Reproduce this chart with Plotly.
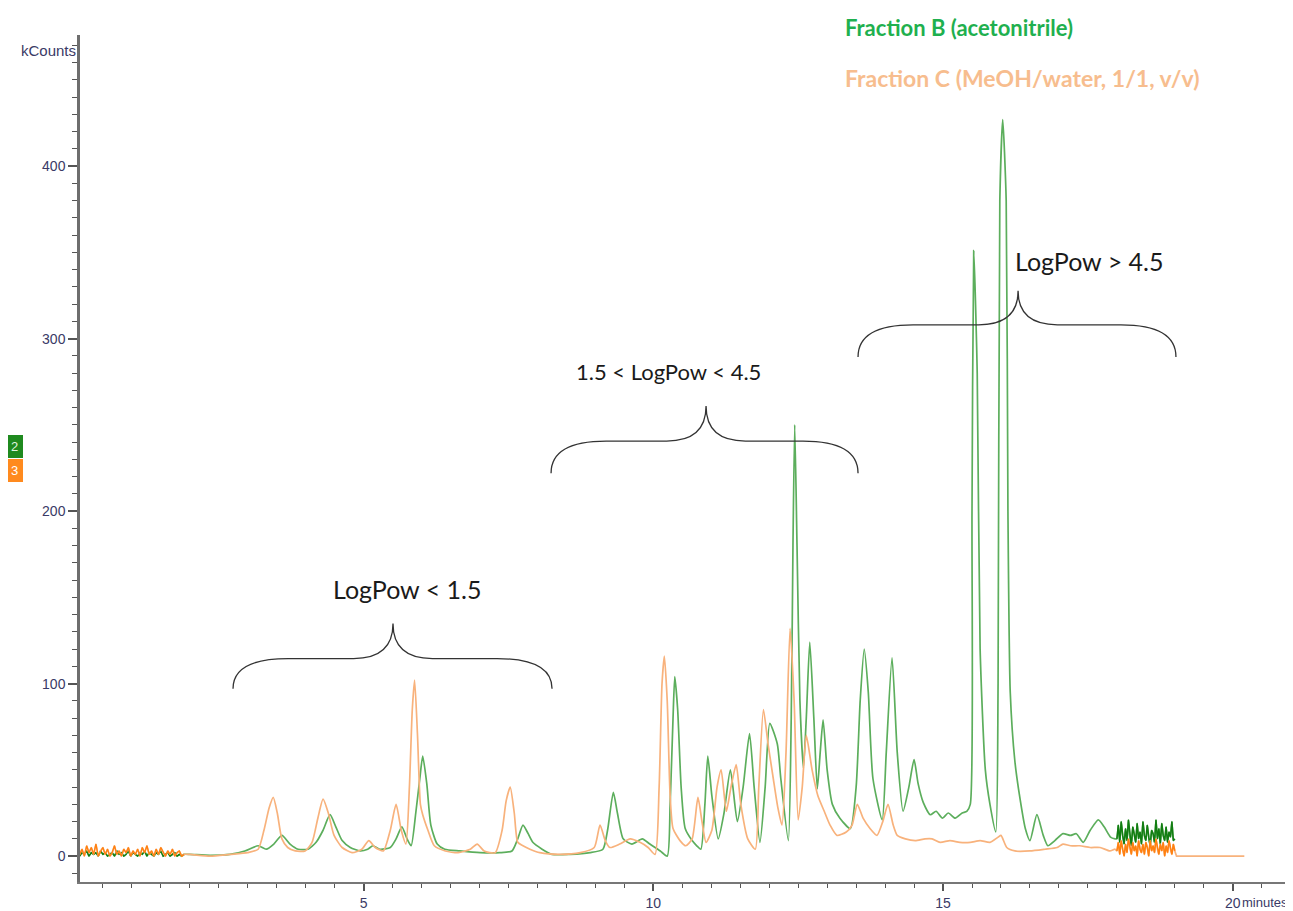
import plotly.graph_objects as go

# ---------------- data ----------------
# early detector noise, 0.1 - 1.9 min
early_t = [0.10,0.14,0.18,0.22,0.26,0.30,0.34,0.38,0.42,0.46,0.50,0.54,0.58,0.62,0.66,0.70,
           0.74,0.78,0.82,0.86,0.90,0.94,0.98,1.02,1.06,1.10,1.14,1.18,1.22,1.26,1.30,1.34,
           1.38,1.42,1.46,1.50,1.54,1.58,1.62,1.66,1.70,1.74,1.78,1.82,1.86,1.90]
green_early = [0,2,1,3,0,2,1,2,0,3,1,2,0,1,2,0,3,1,2,0,1,3,0,2,1,0,2,1,3,0,2,1,0,2,1,3,0,1,2,0,1,2,0,1,0,1]
orange_early = [1,4,0,6,2,5,1,7,0,3,5,1,4,0,2,6,1,3,0,4,2,5,0,3,1,4,0,5,2,6,1,3,0,4,1,5,2,0,3,1,4,0,2,3,0,1]

# late detector noise, 18.0 - 19.0 min
late_t = [18.000,18.025,18.050,18.075,18.100,18.125,18.150,18.175,18.200,18.225,18.250,18.275,
          18.300,18.325,18.350,18.375,18.400,18.425,18.450,18.475,18.500,18.525,18.550,18.575,
          18.600,18.625,18.650,18.675,18.700,18.725,18.750,18.775,18.800,18.825,18.850,18.875,
          18.900,18.925,18.950,18.975,19.000]
green_late = [10,18,8,20,12,7,16,9,21,11,6,17,13,8,19,10,14,7,20,12,9,18,11,6,15,13,8,21,10,16,7,19,12,9,17,8,14,11,20,9,10]
orange_late = [3,8,1,9,4,0,7,2,10,5,1,8,3,6,0,9,4,2,7,1,8,5,0,9,3,6,2,10,4,1,7,3,8,0,6,2,9,4,1,7,3]

# Fraction B (acetonitrile) main trace, minutes / kCounts
green_t = [2.00,2.35,2.69,2.95,3.18,3.32,3.45,3.59,3.73,3.87,4.04,4.18,4.30,4.42,4.52,4.63,4.77,4.94,
           5.07,5.16,5.28,5.46,5.56,5.66,5.75,5.82,5.90,5.97,6.02,6.09,6.16,6.27,6.40,6.66,7.01,7.35,
           7.56,7.66,7.75,7.84,7.92,8.08,8.25,8.56,8.91,9.13,9.21,9.31,9.38,9.48,9.63,9.81,9.94,10.12,
           10.24,10.29,10.34,10.37,10.42,10.48,10.55,10.67,10.75,10.82,10.89,10.94,11.01,11.12,11.22,
           11.33,11.45,11.55,11.66,11.74,11.84,11.93,12.01,12.14,12.20,12.33,12.38,12.41,12.44,12.48,
           12.53,12.59,12.64,12.70,12.77,12.83,12.88,12.93,13.00,13.09,13.22,13.40,13.50,13.57,13.64,
           13.71,13.79,13.95,14.02,14.12,14.21,14.31,14.41,14.50,14.57,14.66,14.78,14.88,14.99,15.09,
           15.21,15.33,15.41,15.47,15.50,15.53,15.59,15.64,15.73,15.81,15.91,15.95,15.98,16.03,16.09,
           16.12,16.16,16.24,16.33,16.42,16.50,16.62,16.73,16.81,16.93,17.07,17.20,17.30,17.42,17.54,
           17.68,17.78,17.89,17.97]
green_y = [1,0.5,1,3,6,4,7,12,7,4,4,8,15,24,17,9,5,3,
           4,6,4,5,10,17,10,6,25,45,58,42,18,7,4,3,2,2,
           3,10,18,13,8,4,1,1,2,4,15,37,25,10,7,10,7,3,
           0,30,80,104,85,40,16,9,6,4,30,58,35,10,25,
           50,20,40,71,40,8,40,77,65,45,9,80,180,250,180,
           90,51,80,124,80,39,60,79,50,30,22,16,40,90,120,
           95,45,21,60,115,60,26,40,56,42,31,24,26,22,25,
           22,25,26,30,200,351,280,120,50,30,14,100,380,427,380,
           200,95,55,33,16,9,24,12,6,9,13,12,13,8,15,
           21,17,11,10]

# Fraction C (MeOH/water) main trace, minutes / kCounts
orange_t = [2.00,2.35,2.69,3.00,3.18,3.28,3.37,3.44,3.51,3.59,3.69,3.82,3.99,4.11,4.21,4.30,4.39,4.49,
            4.63,4.80,4.97,5.09,5.20,5.34,5.46,5.56,5.65,5.73,5.79,5.84,5.88,5.93,5.98,6.02,6.11,6.22,
            6.41,6.63,6.84,6.96,7.08,7.27,7.39,7.46,7.53,7.60,7.66,7.75,7.87,8.04,8.39,8.74,8.98,9.08,
            9.17,9.25,9.42,9.60,9.77,9.91,10.03,10.10,10.15,10.19,10.24,10.29,10.34,10.46,10.56,10.67,
            10.77,10.84,10.91,11.01,11.10,11.17,11.26,11.34,11.43,11.51,11.63,11.76,11.82,11.90,11.98,
            12.07,12.15,12.22,12.29,12.36,12.43,12.50,12.57,12.64,12.74,12.84,12.95,13.05,13.17,13.33,
            13.43,13.52,13.62,13.74,13.86,13.96,14.05,14.14,14.21,14.35,14.52,14.69,14.81,14.95,15.12,
            15.29,15.47,15.64,15.81,15.95,16.00,16.10,16.24,16.50,16.76,16.97,17.07,17.20,17.36,17.54,
            17.71,17.88,17.97]
orange_y = [1,0,1,2,4,15,28,34,25,10,5,3,3,8,22,33,25,12,
            5,2,4,9,5,3,15,30,15,7,40,85,102,70,30,24,15,6,
            3,2,4,7,3,2,15,32,40,25,8,6,4,2,1,2,5,18,
            9,5,7,10,8,5,1,40,100,116,90,35,16,9,6,10,
            34,20,8,15,40,50,26,40,53,30,10,4,40,85,65,
            45,28,18,60,132,90,21,40,70,50,35,26,18,12,14,
            18,30,22,16,12,20,30,18,12,10,9,10,10,8,9,
            8,8,9,8,11,12,5,3,3,4,5,7,6,6,5,
            5,3,4]

# orange flat tail after the run
tail_t = [19.03, 20.20]
tail_y = [0, 0]

# axis ticks
y_ticks = [0, 100, 200, 300, 400]
x_ticks = [5, 10, 15, 20]

# ---------------- assemble ----------------
g_t = early_t + green_t + late_t
g_y = green_early + green_y + green_late
o_t = early_t + orange_t + late_t

LIGHT_G = "#5cae5c"
DARK_G = "#127d12"
LIGHT_O = "#f8b27c"
DARK_O = "#ff8010"

fig = go.Figure()
fig.add_trace(go.Scatter(x=g_t, y=g_y, mode="lines",
                         line=dict(color=LIGHT_G, width=1.7, shape="spline", smoothing=0.6),
                         name="Fraction B", hoverinfo="skip"))
fig.add_trace(go.Scatter(x=early_t, y=green_early, mode="lines", line=dict(color=DARK_G, width=1.3),
                         hoverinfo="skip"))
fig.add_trace(go.Scatter(x=late_t, y=green_late, mode="lines", line=dict(color=DARK_G, width=1.5),
                         hoverinfo="skip"))
fig.add_trace(go.Scatter(x=o_t, y=orange_early + orange_y + orange_late, mode="lines",
                         line=dict(color=LIGHT_O, width=1.7, shape="spline", smoothing=0.6),
                         name="Fraction C", hoverinfo="skip"))
fig.add_trace(go.Scatter(x=[late_t[-1]] + tail_t, y=[orange_late[-1]] + tail_y, mode="lines",
                         line=dict(color=LIGHT_O, width=1.7), hoverinfo="skip"))
fig.add_trace(go.Scatter(x=early_t, y=orange_early, mode="lines", line=dict(color=DARK_O, width=1.3),
                         hoverinfo="skip"))
fig.add_trace(go.Scatter(x=late_t, y=orange_late, mode="lines", line=dict(color=DARK_O, width=1.5),
                         hoverinfo="skip"))

TICKFONT = dict(family="Liberation Sans, Arial, sans-serif", size=14, color="#3a3a66")

# page body has an 8px margin, so the figure is 8px smaller and margins shifted
fig.update_layout(
    width=1285, height=903,
    margin=dict(l=72, r=0, t=27, b=23),
    paper_bgcolor="white", plot_bgcolor="white",
    showlegend=False,
    xaxis=dict(range=[0.105, 21.04], showgrid=False, zeroline=False,
               showline=True, linecolor="#777777", linewidth=1.5,
               ticks="outside", ticklen=7, tickwidth=1.5, tickcolor="#555555",
               tickvals=x_ticks, ticktext=[str(v) for v in x_ticks], tickfont=TICKFONT,
               minor=dict(dtick=0.5, tick0=0, ticks="outside", ticklen=4, tickwidth=1.2,
                          tickcolor="#555555", showgrid=False)),
    yaxis=dict(range=[-15, 476], showgrid=False, zeroline=False,
               showline=True, linecolor="#6e6e6e", linewidth=2.5,
               ticks="outside", ticklen=9, tickwidth=1.5, tickcolor="#555555",
               tickvals=y_ticks, ticktext=[str(v) for v in y_ticks], tickfont=TICKFONT,
               minor=dict(dtick=10, tick0=0, ticks="outside", ticklen=5, tickwidth=1.2,
                          tickcolor="#555555", showgrid=False)),
)

# ---------------- braces ----------------
def brace(x0, x1, xt, ye, yf, yt, wa=0.95, wb=0.68):
    return (f"M {x0},{ye} Q {x0},{yf} {x0 + wa},{yf} L {xt - wb},{yf} "
            f"Q {xt},{yf} {xt},{yt} Q {xt},{yf} {xt + wb},{yf} "
            f"L {x1 - wa},{yf} Q {x1},{yf} {x1},{ye}")

for args in [(2.746, 8.252, 5.507, 97.0, 114.5, 134.8),
             (8.235, 13.533, 10.91, 222.0, 240.6, 260.9),
             (13.533, 19.02, 16.295, 289.4, 308.0, 327.7)]:
    fig.add_shape(type="path", xref="x", yref="y", path=brace(*args),
                  line=dict(color="#333333", width=1.3))

for txt, x, y, sz in [("LogPow < 1.5", 5.75, 154.6, 25),
                      ("1.5 < LogPow < 4.5", 10.27, 281.2, 22),
                      ("LogPow > 4.5", 17.52, 345.0, 25)]:
    fig.add_annotation(x=x, y=y, xref="x", yref="y", text=txt, showarrow=False,
                       font=dict(family="Lato, Open Sans, sans-serif", size=sz, color="#1a1a1a"),
                       xanchor="center", yanchor="middle")

# fraction titles (paper coords: plot area spans page px 80..1293 x 35..880)
fig.add_annotation(x=(843 - 80) / 1213, y=(880 - 28) / 845, xref="paper", yref="paper",
                   text="<b>Fraction B (acetonitrile)</b>",
                   showarrow=False, xanchor="left", yanchor="middle",
                   font=dict(family="Lato, sans-serif", size=22, color="#1fb04f"))
fig.add_annotation(x=(843 - 80) / 1213, y=(880 - 78) / 845, xref="paper", yref="paper",
                   text="<b>Fraction C (MeOH/water, 1/1, v/v)</b>",
                   showarrow=False, xanchor="left", yanchor="middle",
                   font=dict(family="Lato, sans-serif", size=23, color="#f7bd8e"))

# axis captions
fig.add_annotation(x=-0.0016, y=0.982, xref="paper", yref="paper", text="kCounts", showarrow=False,
                   xanchor="right", yanchor="middle",
                   font=dict(family="Liberation Sans, Arial, sans-serif", size=15, color="#3a3a66"))
fig.add_annotation(x=(1290 - 80) / 1213, y=-0.0237, xref="paper", yref="paper", text="minutes",
                   showarrow=False, xanchor="right", yanchor="middle",
                   font=dict(family="Liberation Sans, Arial, sans-serif", size=13, color="#3a3a66"))

# trace number badges
fig.add_annotation(x=-0.0536, y=0.5136, xref="paper", yref="paper", text="2", showarrow=False,
                   xanchor="center", yanchor="middle", width=13, height=19, borderpad=1,
                   bgcolor="#1f8a1f", bordercolor="#1f8a1f", borderwidth=1,
                   font=dict(family="Liberation Sans, Arial, sans-serif", size=13, color="#dff5df"))
fig.add_annotation(x=-0.0536, y=0.4864, xref="paper", yref="paper", text="3", showarrow=False,
                   xanchor="center", yanchor="middle", width=13, height=19, borderpad=1,
                   bgcolor="#ff8a1e", bordercolor="#ff8a1e", borderwidth=1,
                   font=dict(family="Liberation Sans, Arial, sans-serif", size=13, color="white"))

fig.write_html("out.html")
